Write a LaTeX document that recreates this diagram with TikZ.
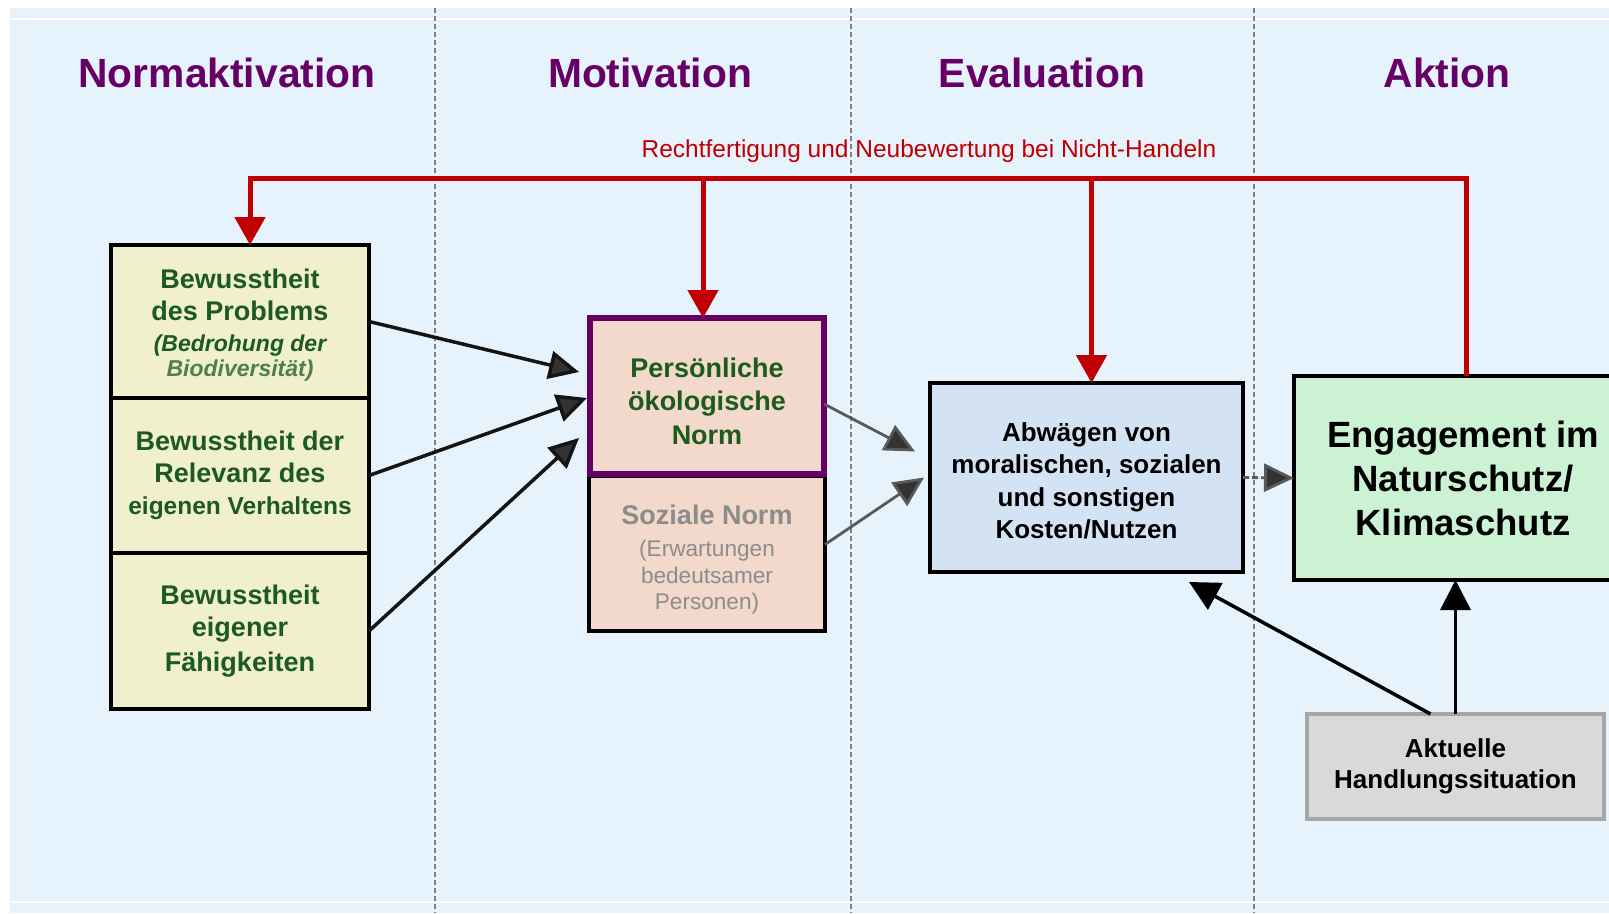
\documentclass[tikz,border=0pt]{standalone}
\usepackage{fontspec}
\setmainfont{Liberation Sans}
\usetikzlibrary{arrows.meta,calc}
\definecolor{panelblue}{HTML}{E6F2FC}
\definecolor{paneledge}{HTML}{E9F2FA}
\definecolor{titlepurple}{HTML}{660066}
\definecolor{fbred}{HTML}{C00000}
\definecolor{normgreen}{HTML}{1D5A1D}
\definecolor{softgreen}{HTML}{4F7F4F}
\definecolor{awfill}{HTML}{F0F0CD}
\definecolor{normfill}{HTML}{F2D9CB}
\definecolor{evalfill}{HTML}{D3E3F4}
\definecolor{actfill}{HTML}{CBF2D3}
\definecolor{sitfill}{HTML}{D9D9D9}
\definecolor{softgray}{HTML}{8C8C8C}
\begin{document}
\begin{tikzpicture}[x=1pt,y=-1pt,
    box/.style={draw=black, line width=4pt, outer sep=0pt, inner sep=0pt, align=center},
    awbox/.style={box, fill=awfill, minimum width=258, text=normgreen,
        font=\bfseries\fontsize{27}{32}\selectfont},
    coltitle/.style={anchor=base, text=titlepurple, font=\bfseries\fontsize{40.8}{48}\selectfont},
    colsep/.style={draw=gray, line width=1.6pt, dash pattern=on 5pt off 3pt},
    feedback/.style={draw=fbred, line width=5pt, -{Triangle[length=28pt,width=30pt]}},
    inarrow/.style={draw=black!92, line width=3.5pt, -{Triangle[length=30pt,width=28pt,fill=black!80]}},
    midarrow/.style={draw=black!65, line width=2.8pt, -{Triangle[length=30pt,width=28pt,fill=black!80]}},
    sitarrow/.style={draw=black, line width=3.5pt, -{Triangle[length=30pt,width=30pt]}}]
    \clip (0,0) rectangle (1609,913);
    % Panel
    \fill[white] (0,0) rectangle (1609,913);
    \fill[paneledge] (10,8) rectangle (1609,913);
    \fill[panelblue] (28,27) rectangle (1609,897);
    \draw[white, line width=2pt] (10,19) -- (1609,19);
    \draw[white, line width=2pt] (10,902) -- (1609,902);
    % Column separators
    \draw[colsep] (435,8) -- (435,913);
    \draw[colsep] (851,8) -- (851,913);
    \draw[colsep] (1254,8) -- (1254,913);
    % Column titles
    \node[coltitle] (tnorm) at (227,87) {Normaktivation};
    \node[coltitle] (tmot) at (650,87) {Motivation};
    \node[coltitle] (teval) at (1042,87) {Evaluation};
    \node[coltitle] (takt) at (1447,87) {Aktion};
    \node[anchor=base, text=fbred, font=\fontsize{24.5}{29}\selectfont] (fblabel) at (929,157)
        {Rechtfertigung und Neubewertung bei Nicht-Handeln};
    % Awareness boxes
    \node[awbox, minimum height=153] (aw1) at (240,321.5)
        {\rule{0pt}{27pt}Bewusstheit\\des Problems\\[-1pt]
         {\itshape\fontsize{23}{26}\selectfont (Bedrohung der}\\[-7pt]
         {\itshape\fontsize{23}{26}\selectfont\color{softgreen}Biodiversität)}};
    \node[awbox, minimum height=155] (aw2) at (240,475.5)
        {Bewusstheit der\\Relevanz des\\{\fontsize{24.5}{28}\selectfont eigenen Verhaltens}};
    \node[awbox, minimum height=156] (aw3) at (240,631)
        {Bewusstheit\\eigener\\[3pt]Fähigkeiten};
    % Norms
    \node[box, fill=normfill, minimum width=236, minimum height=155, text=softgray,
        font=\fontsize{22.6}{26.5}\selectfont] (sn) at (707,553.5)
        {{\bfseries\fontsize{27}{32}\selectfont\rule{0pt}{32pt}Soziale Norm}\\[5.5pt](Erwartungen\\bedeutsamer\\Personen)};
    \node[box, draw=titlepurple, line width=6pt, fill=normfill, minimum width=234, minimum height=156,
        text=normgreen, font=\bfseries\fontsize{27}{33.5}\selectfont] (pn) at (707,396)
        {\rule{0pt}{30pt}Persönliche\\ökologische\\Norm};
    % Evaluation
    \node[box, fill=evalfill, minimum width=313, minimum height=189,
        font=\bfseries\fontsize{26}{32.5}\selectfont] (ab) at (1086.5,477.5)
        {\rule{0pt}{26pt}Abwägen von\\moralischen, sozialen\\und sonstigen\\Kosten/Nutzen};
    % Action
    \node[box, fill=actfill, minimum width=338, minimum height=204,
        font=\bfseries\fontsize{36.5}{44}\selectfont] (eng) at (1463,478)
        {Engagement im\\Naturschutz/\\Klimaschutz};
    \node[box, draw=black!35, fill=sitfill, minimum width=297, minimum height=105,
        font=\bfseries\fontsize{26}{31}\selectfont] (ak) at (1455.5,766.5)
        {Aktuelle\\Handlungssituation};
    % Arrows into the norm
    \draw[inarrow] (aw1.east) -- ($(pn.west)+(-11,-24)$);
    \draw[inarrow] (aw2.east) -- ($(pn.west)+(-3,2)$);
    \draw[inarrow] (aw3.east) -- ($(pn.west)+(-11,42)$);
    % Arrows into the evaluation
    \draw[midarrow] ($(pn.east)+(0,8)$) -- ($(ab.west)+(-15,-26)$);
    \draw[midarrow] ($(sn.east)+(0,-9)$) -- ($(ab.west)+(-6,0)$);
    \draw[midarrow, dash pattern=on 6pt off 3pt] (ab.east) -- (eng.west);
    % Situation
    \draw[sitarrow] ($(ak.north)+(-25,0)$) -- ($(ab.south east)+(-54,10)$);
    \draw[sitarrow] (ak.north) -- (ak.north |- eng.south);
    % Feedback loop
    \coordinate (fbtop) at ($(eng.north)+(3,-198)$);
    \coordinate (awin) at ($(aw1.north)+(10,0)$);
    \coordinate (pnin) at ($(pn.north)+(-4,0)$);
    \coordinate (abin) at ($(ab.north)+(5,0)$);
    \draw[feedback] ($(eng.north)+(3,0)$) -- (fbtop) -| (awin);
    \draw[feedback] (pnin |- fbtop) -- (pnin);
    \draw[feedback] (abin |- fbtop) -- (abin);
\end{tikzpicture}
\end{document}
